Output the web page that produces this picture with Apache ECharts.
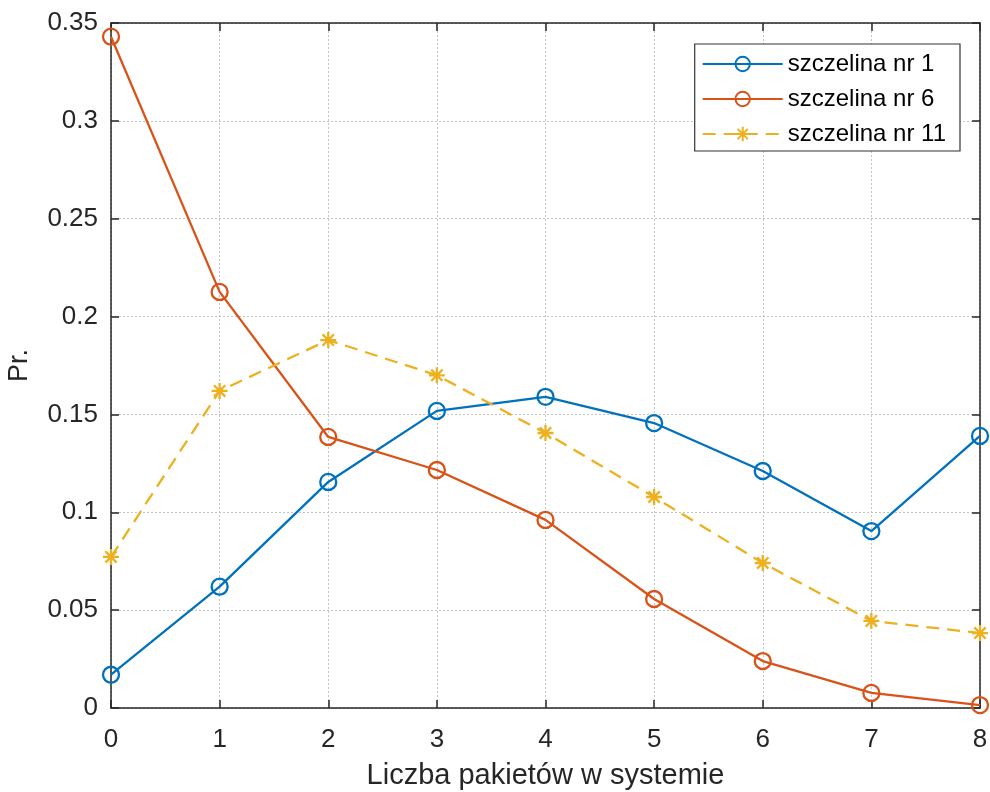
<!DOCTYPE html>
<html>
<head>
<meta charset="utf-8">
<script src="https://cdn.jsdelivr.net/npm/echarts@6/dist/echarts.min.js"></script>
<style>html,body{margin:0;padding:0;background:#fff;}#c{width:990px;height:792px;}</style>
</head>
<body>
<div id="c"></div>
<script>
const xValues = [0, 1, 2, 3, 4, 5, 6, 7, 8];
const seriesNames = ['szczelina nr 1', 'szczelina nr 6', 'szczelina nr 11'];
const slot1 = [0.017, 0.062, 0.1155, 0.1518, 0.159, 0.1456, 0.1211, 0.0904, 0.139];
const slot6 = [0.343, 0.2126, 0.1385, 0.1216, 0.0961, 0.0557, 0.024, 0.0077, 0.0015];
const slot11 = [0.0772, 0.162, 0.188, 0.170, 0.1405, 0.1078, 0.0741, 0.0445, 0.0383];
const colors = ['#0072BD', '#D95319', '#EDB120'];
const xLabel = 'Liczba pakietów w systemie';
const yLabel = 'Pr.';

const pair = (arr) => xValues.map((x, i) => [x, arr[i]]);
const FONT = 'Liberation Sans';
const axisColor = '#262626';
const star = 'path://M0,-10L0,10M-10,0L10,0M-7.07,-7.07L7.07,7.07M-7.07,7.07L7.07,-7.07';

const chart = echarts.init(document.getElementById('c'), null, {renderer: 'canvas'});
const gridLine = {show: true, lineStyle: {color: '#c4c4c4', type: [2, 2], width: 1}};
chart.setOption({
  animation: false,
  backgroundColor: '#fff',
  textStyle: {fontFamily: FONT},
  grid: {left: 111, right: 10, top: 23, bottom: 84, containLabel: false, outerBoundsMode: 'none'},
  legend: {
    right: 30, top: 44,
    orient: 'vertical',
    backgroundColor: '#fff',
    borderColor: '#333',
    borderWidth: 1.2,
    padding: [8, 14, 5, 7],
    itemGap: 11,
    itemWidth: 80,
    itemHeight: 18,
    textStyle: {fontFamily: FONT, fontSize: 24, color: '#000'},
    data: seriesNames
  },
  xAxis: [{
    type: 'value', min: 0, max: 8, interval: 1,
    name: xLabel, nameLocation: 'middle', nameGap: 53,
    nameTextStyle: {fontFamily: FONT, fontSize: 29, color: '#262626'},
    axisLine: {show: true, onZero: false, lineStyle: {color: axisColor, width: 1.5}},
    axisTick: {show: true, inside: true, length: 8, lineStyle: {color: axisColor, width: 1.5}},
    axisLabel: {fontFamily: FONT, fontSize: 26, color: '#262626', margin: 19},
    splitLine: gridLine
  }, {
    type: 'value', min: 0, max: 8, interval: 1, position: 'top',
    axisLine: {show: true, onZero: false, lineStyle: {color: axisColor, width: 1.5}},
    axisTick: {show: true, inside: true, length: 8, lineStyle: {color: axisColor, width: 1.5}},
    axisLabel: {show: false}, splitLine: {show: false}
  }],
  yAxis: [{
    type: 'value', min: 0, max: 0.35, interval: 0.05,
    name: yLabel, nameLocation: 'middle', nameGap: 78,
    nameTextStyle: {fontFamily: FONT, fontSize: 27, color: '#262626'},
    axisLine: {show: true, onZero: false, lineStyle: {color: axisColor, width: 1.5}},
    axisTick: {show: true, inside: true, length: 8, lineStyle: {color: axisColor, width: 1.5}},
    axisLabel: {fontFamily: FONT, fontSize: 26, color: '#262626', margin: 13,
      formatter: v => String(Math.round(v * 100) / 100)},
    splitLine: gridLine
  }, {
    type: 'value', min: 0, max: 0.35, interval: 0.05, position: 'right',
    axisLine: {show: true, onZero: false, lineStyle: {color: axisColor, width: 1.5}},
    axisTick: {show: true, inside: true, length: 8, lineStyle: {color: axisColor, width: 1.5}},
    axisLabel: {show: false}, splitLine: {show: false}
  }],
  series: [
    {
      name: seriesNames[0], type: 'line', data: pair(slot1),
      symbol: 'circle', symbolSize: 16, showAllSymbol: true,
      lineStyle: {color: colors[0], width: 2.3},
      itemStyle: {color: 'none', borderColor: colors[0], borderWidth: 2.3}
    },
    {
      name: seriesNames[1], type: 'line', data: pair(slot6),
      symbol: 'circle', symbolSize: 16, showAllSymbol: true,
      lineStyle: {color: colors[1], width: 2.3},
      itemStyle: {color: 'none', borderColor: colors[1], borderWidth: 2.3}
    },
    {
      name: seriesNames[2], type: 'line', data: pair(slot11),
      symbol: star, symbolSize: 16, showAllSymbol: true,
      lineStyle: {color: colors[2], width: 2.3, type: [13, 8]},
      itemStyle: {color: 'none', borderColor: colors[2], borderWidth: 2.3}
    }
  ]
});
</script>
</body>
</html>
